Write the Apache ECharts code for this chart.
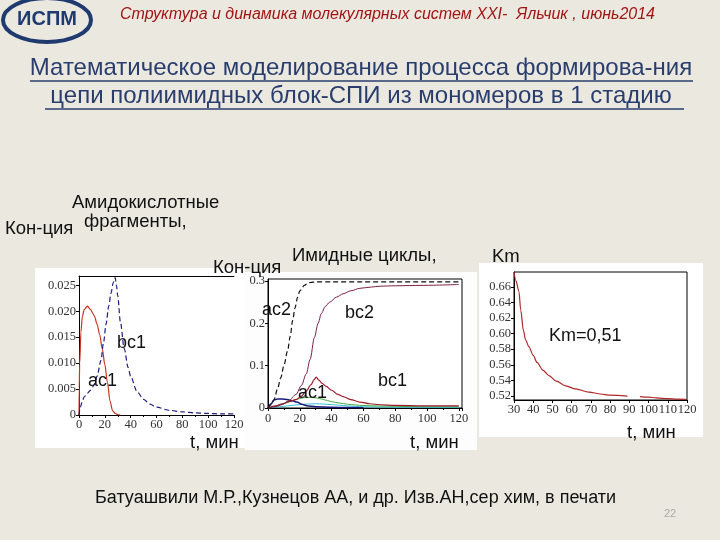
<!DOCTYPE html>
<html><head><meta charset="utf-8">
<script src="https://cdn.jsdelivr.net/npm/echarts@6/dist/echarts.min.js"></script>
<style>html,body{margin:0;padding:0;background:#ebe8e0}#c{width:720px;height:540px}</style>
</head><body><div id="c"></div>
<script>
// ---- Chart 1: amido-acid fragments ----
const t1_ac1 = [0, 0.2, 0.5, 1.5, 2.6, 4, 6.5, 9, 11, 12, 14, 16, 18, 20, 22, 24, 26, 28, 30, 32];
const v1_ac1 = [0, 0.0053, 0.0098, 0.016, 0.019, 0.0203, 0.021, 0.0203, 0.0195, 0.019, 0.0175, 0.0155, 0.0128, 0.0097, 0.0063, 0.0027, 0.0008, 0.0003, 0.0001, 0];
const t1_bc1 = [0, 1, 2.6, 4, 6.5, 9, 11.8, 14, 17, 19, 21, 23, 24.8, 26.5, 28, 29, 30, 32, 35, 38, 40, 45, 50, 55, 60, 70, 80, 90, 100, 110, 120];
const v1_bc1 = [0, 0.0015, 0.0027, 0.0035, 0.0042, 0.0048, 0.0058, 0.0075, 0.0105, 0.014, 0.0176, 0.021, 0.0235, 0.0255, 0.0265, 0.025, 0.023, 0.018, 0.0128, 0.0092, 0.0074, 0.0045, 0.003, 0.0021, 0.0015, 0.0009, 0.0006, 0.0004, 0.0003, 0.0002, 0.0002];
// ---- Chart 2: imide cycles ----
const t2_ac2 = [0, 2, 3.8, 6, 8, 10, 12.3, 14, 15.5, 17, 18.6, 20, 22.9, 25, 27, 30, 40, 60, 80, 100, 120];
const v2_ac2 = [0, 0.008, 0.02, 0.045, 0.071, 0.1, 0.135, 0.17, 0.207, 0.237, 0.262, 0.277, 0.29, 0.295, 0.297, 0.298, 0.298, 0.298, 0.298, 0.298, 0.298];
const t2_bc2 = [0, 5, 9, 13, 17.6, 21, 24, 26.5, 29.2, 31.5, 33.5, 36, 38.7, 43, 47.2, 52, 57.8, 65, 70.5, 80, 98, 120];
const v2_bc2 = [0, 0.003, 0.008, 0.017, 0.032, 0.053, 0.08, 0.115, 0.167, 0.2, 0.223, 0.24, 0.25, 0.262, 0.27, 0.277, 0.283, 0.286, 0.288, 0.289, 0.29, 0.292];
const t2_bc1 = [0, 5, 9, 13, 17.6, 21, 24, 27, 29, 30.3, 32, 34, 36.6, 40, 44, 47.2, 52, 57.8, 64, 70.5, 80, 98, 120];
const v2_bc1 = [0, 0.005, 0.01, 0.015, 0.02, 0.028, 0.04, 0.055, 0.067, 0.073, 0.066, 0.058, 0.051, 0.042, 0.032, 0.027, 0.02, 0.014, 0.01, 0.0077, 0.006, 0.005, 0.005];
const t2_ac1 = [0, 2, 3.8, 6, 9, 12, 15.5, 18, 21.8, 25, 30, 40, 50, 60];
const v2_ac1 = [0, 0.01, 0.019, 0.021, 0.021, 0.02, 0.017, 0.014, 0.008, 0.005, 0.003, 0.0015, 0.001, 0.0005];
const t2_g = [0, 5, 10, 17.6, 22, 26, 30, 35, 40, 50, 60, 80, 100, 120];
const v2_g = [0, 0.005, 0.01, 0.02, 0.024, 0.025, 0.024, 0.02, 0.015, 0.009, 0.006, 0.004, 0.003, 0.003];
const t2_c = [0, 10, 20, 30, 40, 50, 60, 80, 120];
const v2_c = [0, 0.004, 0.008, 0.01, 0.008, 0.005, 0.003, 0.002, 0.001];
// ---- Chart 3: Km ----
const t3_km = [30, 31, 32.6, 33.5, 34.9, 36, 37.8, 40, 42, 45, 48.2, 52, 56.9, 62, 69, 75, 80, 89, 92, 95.5, 100, 104, 110, 115, 119.4];
const v3_km = [0.679, 0.668, 0.6535, 0.63, 0.604, 0.592, 0.583, 0.572, 0.563, 0.553, 0.546, 0.539, 0.533, 0.529, 0.525, 0.5225, 0.521, 0.5198, '-', 0.5192, 0.5185, 0.5175, 0.5165, 0.516, 0.5155];

const zip = (a, b) => a.map((x, i) => [x, b[i]]);
const serif = 'Liberation Serif';
const lbl = (fmt, margin) => ({fontFamily: serif, fontSize: 12.5, color: '#333', margin: margin, formatter: fmt});
const txt = (x, y, s, size, opt) => Object.assign({type: 'text', z: 50, style: Object.assign({x: x, y: y, text: s, fontSize: size, fontFamily: 'Liberation Sans', fill: '#111', textVerticalAlign: 'middle'}, opt || {})});

const chart = echarts.init(document.getElementById('c'));
chart.setOption({
  backgroundColor: '#ebe8e0',
  animation: false,
  grid: [
    {left: 79, top: 276, width: 155, height: 139, show: false},
    {left: 268, top: 279, width: 194, height: 129, show: true, borderColor: '#000', borderWidth: 1, backgroundColor: '#fff'},
    {left: 514, top: 272, width: 173, height: 128, show: true, borderColor: '#000', borderWidth: 1, backgroundColor: '#fff'}
  ],
  xAxis: [
    {gridIndex: 0, type: 'value', min: 0, max: 120, interval: 20, axisLine: {lineStyle: {color: '#000'}}, axisTick: {length: 3, lineStyle: {color: '#000'}}, minorTick: {show: true, splitNumber: 2, length: 2, lineStyle: {color: '#000'}}, splitLine: {show: false}, axisLabel: lbl(null, 3)},
    {gridIndex: 0, type: 'value', position: 'top', min: 0, max: 120, axisLine: {show: true, lineStyle: {color: '#000'}}, axisTick: {show: false}, axisLabel: {show: false}, splitLine: {show: false}},
    {gridIndex: 1, type: 'value', min: 0, max: 122, interval: 20, axisLine: {lineStyle: {color: '#000'}}, axisTick: {length: 3, lineStyle: {color: '#000'}}, minorTick: {show: true, splitNumber: 2, length: 2, lineStyle: {color: '#000'}}, splitLine: {show: false}, axisLabel: Object.assign(lbl(null, 4), {showMaxLabel: false})},
    {gridIndex: 2, type: 'value', min: 30, max: 120, interval: 10, axisLine: {lineStyle: {color: '#000'}}, axisTick: {length: 3, lineStyle: {color: '#000'}}, splitLine: {show: false}, axisLabel: lbl(null, 3)}
  ],
  yAxis: [
    {gridIndex: 0, type: 'value', min: 0, max: 0.0268, interval: 0.005, axisLine: {show: true, lineStyle: {color: '#000'}}, axisTick: {show: true, length: 3, lineStyle: {color: '#000'}}, splitLine: {show: false}, axisLabel: Object.assign(lbl(v => v === 0 ? '0' : v.toFixed(3), 3), {showMaxLabel: false})},
    {gridIndex: 1, type: 'value', min: 0, max: 0.305, splitNumber: 3, axisLine: {show: true, lineStyle: {color: '#000'}}, axisTick: {show: true, length: 3, lineStyle: {color: '#000'}}, splitLine: {show: false}, axisLabel: Object.assign(lbl(v => v === 0 ? '0' : v.toFixed(1), 3), {showMaxLabel: false})},
    {gridIndex: 2, type: 'value', min: 0.5148, max: 0.679, splitNumber: 8, axisLine: {show: true, lineStyle: {color: '#000'}}, axisTick: {show: true, length: 3, lineStyle: {color: '#000'}}, splitLine: {show: false}, axisLabel: Object.assign(lbl(v => v.toFixed(2), 3), {showMinLabel: false, showMaxLabel: false})}
  ],
  series: [
    {type: 'line', xAxisIndex: 0, yAxisIndex: 0, data: zip(t1_ac1, v1_ac1), smooth: 0.3, smoothMonotone: 'x', symbol: 'none', lineStyle: {color: '#cc3322', width: 1.2}},
    {type: 'line', xAxisIndex: 0, yAxisIndex: 0, data: zip(t1_bc1, v1_bc1), smooth: 0.3, smoothMonotone: 'x', symbol: 'none', lineStyle: {color: '#1c1c80', width: 1.2, type: [5, 3]}},
    {type: 'line', xAxisIndex: 2, yAxisIndex: 1, data: zip(t2_c, v2_c), smooth: 0.3, symbol: 'none', lineStyle: {color: '#33c0d8', width: 1}},
    {type: 'line', xAxisIndex: 2, yAxisIndex: 1, data: zip(t2_g, v2_g), smooth: 0.3, symbol: 'none', lineStyle: {color: '#44aa44', width: 1}},
    {type: 'line', xAxisIndex: 2, yAxisIndex: 1, data: zip(t2_ac1, v2_ac1), smooth: 0.3, smoothMonotone: 'x', symbol: 'none', lineStyle: {color: '#1a1a7a', width: 1.5}},
    {type: 'line', xAxisIndex: 2, yAxisIndex: 1, data: zip(t2_bc1, v2_bc1), smooth: 0.3, smoothMonotone: 'x', symbol: 'none', lineStyle: {color: '#9a1c2c', width: 1.2}},
    {type: 'line', xAxisIndex: 2, yAxisIndex: 1, data: zip(t2_bc2, v2_bc2), smooth: 0.3, smoothMonotone: 'x', symbol: 'none', lineStyle: {color: '#7a2040', width: 1}},
    {type: 'line', xAxisIndex: 2, yAxisIndex: 1, data: zip(t2_ac2, v2_ac2), smooth: 0.3, smoothMonotone: 'x', symbol: 'none', lineStyle: {color: '#111', width: 1.2, type: [5, 3]}},
    {type: 'line', xAxisIndex: 3, yAxisIndex: 2, data: zip(t3_km, v3_km), smooth: 0.3, smoothMonotone: 'x', connectNulls: false, symbol: 'none', lineStyle: {color: '#b02828', width: 1.2}}
  ],
  graphic: [
    {type: 'rect', z: -10, shape: {x: 35, y: 268, width: 210, height: 180}, style: {fill: '#fff'}},
    {type: 'rect', z: -10, shape: {x: 245, y: 272, width: 232, height: 178}, style: {fill: '#fdfdfd'}},
    {type: 'rect', z: -10, shape: {x: 479, y: 263, width: 224, height: 174}, style: {fill: '#fff'}},
    {type: 'ellipse', z: 50, shape: {cx: 47, cy: 20, rx: 44, ry: 22}, style: {fill: 'none', stroke: '#1f3a6e', lineWidth: 4}},
    txt(47, 19, 'ИСПМ', 20, {fontWeight: 'bold', fill: '#1f3a6e', textAlign: 'center'}),
    txt(120, 15, 'Структура и динамика молекулярных систем XXI-  Яльчик , июнь2014', 16, {fontStyle: 'italic', fill: '#a31515'}),
    txt(361, 68, 'Математическое моделирование процесса формирова-ния', 24, {fill: '#2a3e6e', textAlign: 'center'}),
    txt(361, 96, 'цепи полиимидных блок-СПИ из мономеров в 1 стадию', 24, {fill: '#2a3e6e', textAlign: 'center'}),
    {type: 'line', z: 50, shape: {x1: 30, y1: 81, x2: 693, y2: 81}, style: {stroke: '#2a3e6e', lineWidth: 1.5}},
    {type: 'line', z: 50, shape: {x1: 45, y1: 109, x2: 684, y2: 109}, style: {stroke: '#2a3e6e', lineWidth: 1.5}},
    txt(72, 203, 'Амидокислотные', 18.5),
    txt(84, 222, 'фрагменты,', 18.5),
    txt(5, 229, 'Кон-ция', 18.5),
    txt(213, 268, 'Кон-ция', 18.5),
    txt(292, 256, 'Имидные циклы,', 18.5),
    txt(492, 257, 'Km', 18.5),
    txt(190, 443, 't, мин', 18.5),
    txt(410, 443, 't, мин', 18.5),
    txt(627, 433, 't, мин', 18.5),
    txt(117, 343, 'bc1', 18),
    txt(88, 381, 'ac1', 18),
    txt(262, 310, 'ac2', 18),
    txt(345, 313, 'bc2', 18),
    txt(378, 381, 'bc1', 18),
    txt(298, 393, 'ac1', 18),
    txt(549, 336, 'Km=0,51', 18),
    txt(95, 498, 'Батуашвили М.Р.,Кузнецов АА, и др. Изв.АН,сер хим, в печати', 18),
    txt(664, 514, '22', 11, {fill: '#aaa'})
  ]
});
</script></body></html>
